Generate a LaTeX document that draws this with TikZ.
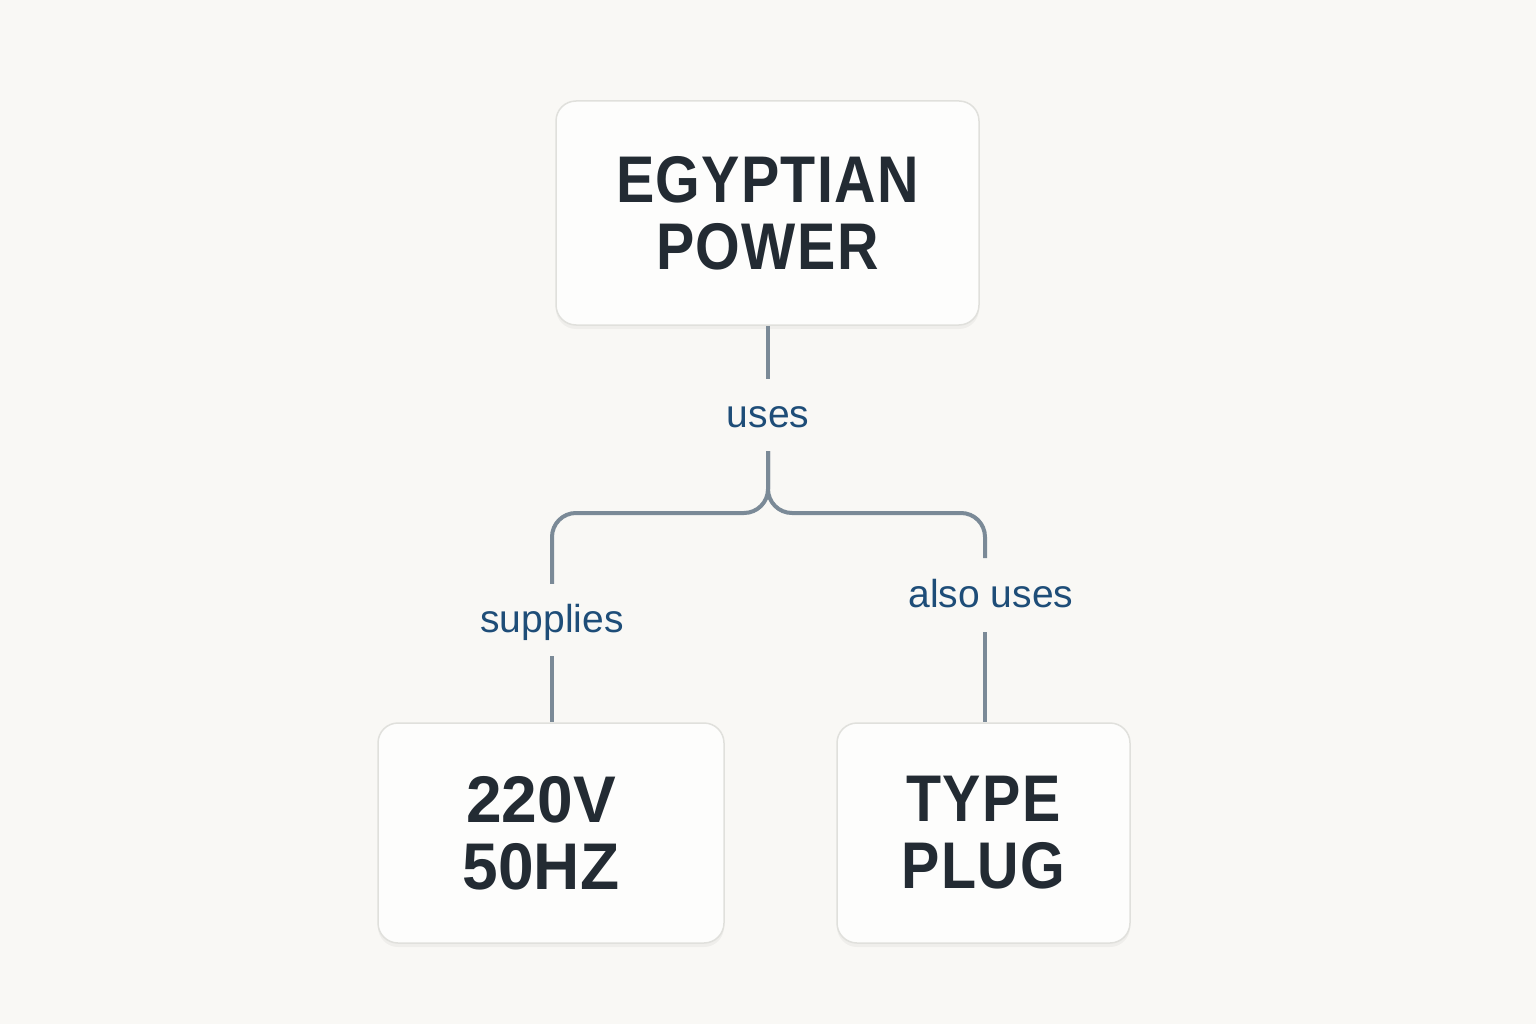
\documentclass[tikz,border=0pt]{standalone}
\usepackage{fontspec}
\setmainfont{Liberation Sans}
\newfontfamily\boxfont[FakeStretch=0.87,LetterSpace=2]{Liberation Sans}
\newfontfamily\numfont[FakeStretch=0.97]{Liberation Sans}
\definecolor{bg}{HTML}{F9F8F5}
\definecolor{boxfill}{HTML}{FDFDFC}
\definecolor{boxline}{HTML}{E0E0DC}
\definecolor{ink}{HTML}{232B33}
\definecolor{lbl}{HTML}{1E4D78}
\definecolor{conn}{HTML}{7B8A97}
\begin{document}
\begin{tikzpicture}[x=1pt,y=-1pt,
  card/.style={draw=boxline, line width=1.5pt, fill=boxfill, rounded corners=20pt,
     align=center, inner sep=0pt, text=ink, font=\fontsize{66}{67}\selectfont\bfseries},
  lab/.style={text=lbl, font=\fontsize{39}{40}\selectfont, inner sep=0pt,
     text height=31pt, text depth=6pt, minimum height=72pt},
  link/.style={draw=conn, line width=4pt, rounded corners=24pt}]
\fill[bg] (0,0) rectangle (1536,1024);
\useasboundingbox (0,0) rectangle (1536,1024);
\fill[black, opacity=0.04, rounded corners=20pt] (556,104) rectangle (979,329);
\fill[black, opacity=0.04, rounded corners=20pt] (378,726) rectangle (724,947);
\fill[black, opacity=0.04, rounded corners=20pt] (837,726) rectangle (1130,947);
\node[card, minimum width=423pt, minimum height=224pt] (top) at (767.5,213)
  {\boxfont EGYPTIAN\\\boxfont POWER};
\node[card, minimum width=346pt, minimum height=220pt] (volt) at (551,833) {};
\node[ink, font=\fontsize{66}{67}\selectfont\bfseries, align=center, inner sep=0pt] (volttext) at (541,833)
  {\numfont 220V\\\numfont 50HZ};
\node[card, minimum width=293pt, minimum height=220pt] (plug) at (983.5,833)
  {\boxfont TYPE\\\boxfont PLUG};
\node[lab] (uses) at (768,415) {uses};
\node[lab] (supplies) at (552,620) {supplies};
\node[lab] (also) at (991,595) {also uses};
\coordinate (rtop) at (985,558);
\coordinate (rbot) at (985,632);
\draw[link] (uses.north |- top.south) -- (uses.north);
\draw[link] (uses.south) |- (552,513) -- (supplies.north);
\draw[link] (uses.south) |- (rtop |- 0,513) -- (rtop);
\draw[link] (supplies.south) -- (supplies.south |- volt.north);
\draw[link] (rbot) -- (rbot |- plug.north);
\end{tikzpicture}
\end{document}
